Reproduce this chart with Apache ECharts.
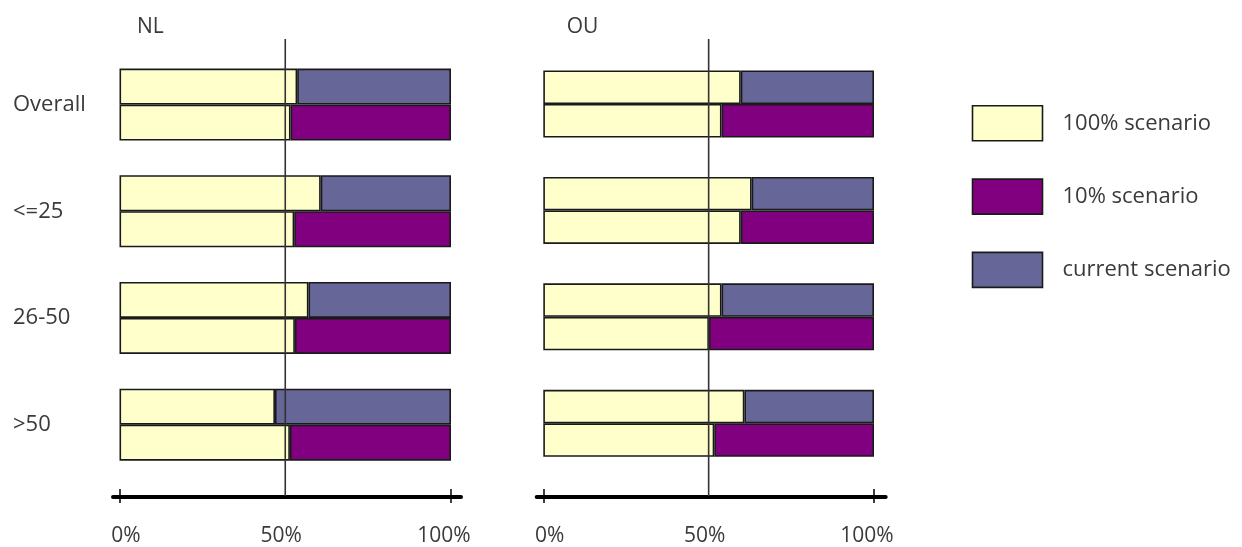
<!DOCTYPE html>
<html><head><meta charset="utf-8">
<script src="https://cdn.jsdelivr.net/npm/echarts@6/dist/echarts.min.js"></script>
<style>html,body{margin:0;padding:0;background:#fff}#c{width:1242px;height:547px}</style>
</head><body><div id="c"></div>
<script>
// ---- data ----
const categories = ['Overall', '<=25', '26-50', '>50'];
const panelTitles = ['NL', 'OU'];
const seriesNames = ['100% scenario', '10% scenario', 'current scenario'];
// share of the 100% scenario in the "vs current" (upper) bar
const nlBaseVsCurrent = [53.6, 60.7, 57.0, 46.9];
// share of the 100% scenario in the "vs 10%" (lower) bar
const nlBaseVs10 = [51.6, 52.7, 52.9, 51.4];
const ouBaseVsCurrent = [59.7, 63.0, 53.9, 60.8];
const ouBaseVs10 = [53.9, 59.7, 50.1, 51.7];
const tickLabels = [0, 50, 100];
const refLineValue = 50;

// ---- styles / layout ----
const FONT = 'Open Sans';
const TXT = '#3a3a3a';
const YELLOW = '#FFFFCC', PURPLE = '#800080', BLUE = '#666699';
const BORDER = '#1a1a1a';
const panels = [
  { title: panelTitles[0], cur: nlBaseVsCurrent, ten: nlBaseVs10, left: 119.5, width: 331.5, barTop: 51.2, barH: 426.8, barW: 36, axLeft: 113, axW: 348, titleLeft: 137 },
  { title: panelTitles[1], cur: ouBaseVsCurrent, ten: ouBaseVs10, left: 543.3, width: 330.7, barTop: 50.8, barH: 425.7, barW: 33.5, axLeft: 536.7, axW: 349, titleLeft: 566.7 }
];
const AXIS_Y = 497, LINE_TOP = 39;
const labelRich = {
  l: { fontFamily: FONT, fontSize: 21, color: TXT, padding: [0, 0, 0, 13] },
  m: { fontFamily: FONT, fontSize: 21, color: TXT, padding: [0, 8, 0, 0] },
  r: { fontFamily: FONT, fontSize: 21, color: TXT, padding: [0, 14, 0, 0] }
};
const tickFormatter = v => (v === 0 ? '{l|' : v === 100 ? '{r|' : '{m|') + v + '%}';

const grid = [], xAxis = [], yAxis = [], series = [], title = [];
panels.forEach((p, i) => {
  const g0 = grid.length;
  grid.push({ left: p.left, width: p.width, top: p.barTop, height: p.barH });
  grid.push({ left: p.left, width: p.width, top: LINE_TOP, height: AXIS_Y - LINE_TOP });
  grid.push({ left: p.axLeft, width: p.axW, top: LINE_TOP, height: AXIS_Y - LINE_TOP });
  title.push({ text: p.title, left: p.titleLeft, top: 17, padding: 0,
    textStyle: { fontFamily: FONT, fontSize: 21, fontWeight: 'normal', color: TXT } });

  const x0 = xAxis.length;
  xAxis.push({ gridIndex: g0, type: 'value', min: 0, max: 100, show: false });
  xAxis.push({ gridIndex: g0 + 1, type: 'value', min: 0, max: 100, interval: 50, position: 'bottom', offset: 0,
    axisLine: { show: false }, splitLine: { show: false },
    axisTick: { show: true, customValues: [0, 100], length: 7, inside: false, lineStyle: { color: '#000', width: 1.5 } },
    axisLabel: { customValues: tickLabels, formatter: tickFormatter, rich: labelRich, margin: 30, fontFamily: FONT, fontSize: 21, color: TXT } });
  xAxis.push({ gridIndex: g0 + 1, type: 'value', min: 0, max: 100, interval: 50, position: 'bottom', offset: 0,
    axisLine: { show: false }, splitLine: { show: false }, axisLabel: { show: false },
    axisTick: { show: true, customValues: [0, 100], length: 7, inside: true, lineStyle: { color: '#000', width: 1.5 } } });
  xAxis.push({ gridIndex: g0 + 2, type: 'value', min: 0, max: 1, position: 'bottom',
    axisLine: { show: true, lineStyle: { color: '#000', width: 4 } },
    axisTick: { show: false }, axisLabel: { show: false }, splitLine: { show: false } });

  const y0 = yAxis.length;
  yAxis.push({ gridIndex: g0, type: 'category', inverse: true, data: categories,
    axisLine: { show: false }, axisTick: { show: false },
    axisLabel: { show: i === 0, align: 'left', margin: p.left - 13, padding: [5, 0, 0, 0], fontFamily: FONT, fontSize: 22, color: TXT } });
  yAxis.push({ gridIndex: g0 + 1, type: 'value', min: 0, max: 1, show: false });
  yAxis.push({ gridIndex: g0 + 2, type: 'value', min: 0, max: 1, show: false });

  const bs = (name, stack, data, color) => ({
    type: 'bar', name, stack: stack + i, data, xAxisIndex: x0, yAxisIndex: y0,
    barWidth: p.barW, barGap: '0%',
    itemStyle: { color, borderColor: BORDER, borderWidth: 1.6 }, emphasis: { disabled: true }
  });
  series.push(bs(seriesNames[0], 'cur', p.cur, YELLOW));
  series.push(bs(seriesNames[2], 'cur', p.cur.map(v => 100 - v), BLUE));
  series.push(bs(seriesNames[0], 'ten', p.ten, YELLOW));
  series.push(bs(seriesNames[1], 'ten', p.ten.map(v => 100 - v), PURPLE));
  series.push({ type: 'line', xAxisIndex: x0 + 1, yAxisIndex: y0 + 1, data: [[refLineValue, 0], [refLineValue, 1]],
    symbol: 'none', z: 10, silent: true, lineStyle: { color: '#333', width: 1.6 } });
});

const chart = echarts.init(document.getElementById('c'), null, { renderer: 'canvas' });
chart.setOption({
  animation: false,
  backgroundColor: '#fff',
  title, grid, xAxis, yAxis, series,
  legend: {
    data: seriesNames, orient: 'vertical', left: 971.7, top: 105, padding: 0,
    itemWidth: 70, itemHeight: 35, itemGap: 36.7, icon: 'rect',
    itemStyle: { borderColor: BORDER, borderWidth: 1.6 },
    textStyle: { fontFamily: FONT, fontSize: 22, color: TXT, padding: [4, 0, 0, 15] },
    selectedMode: false
  }
});
</script></body></html>
